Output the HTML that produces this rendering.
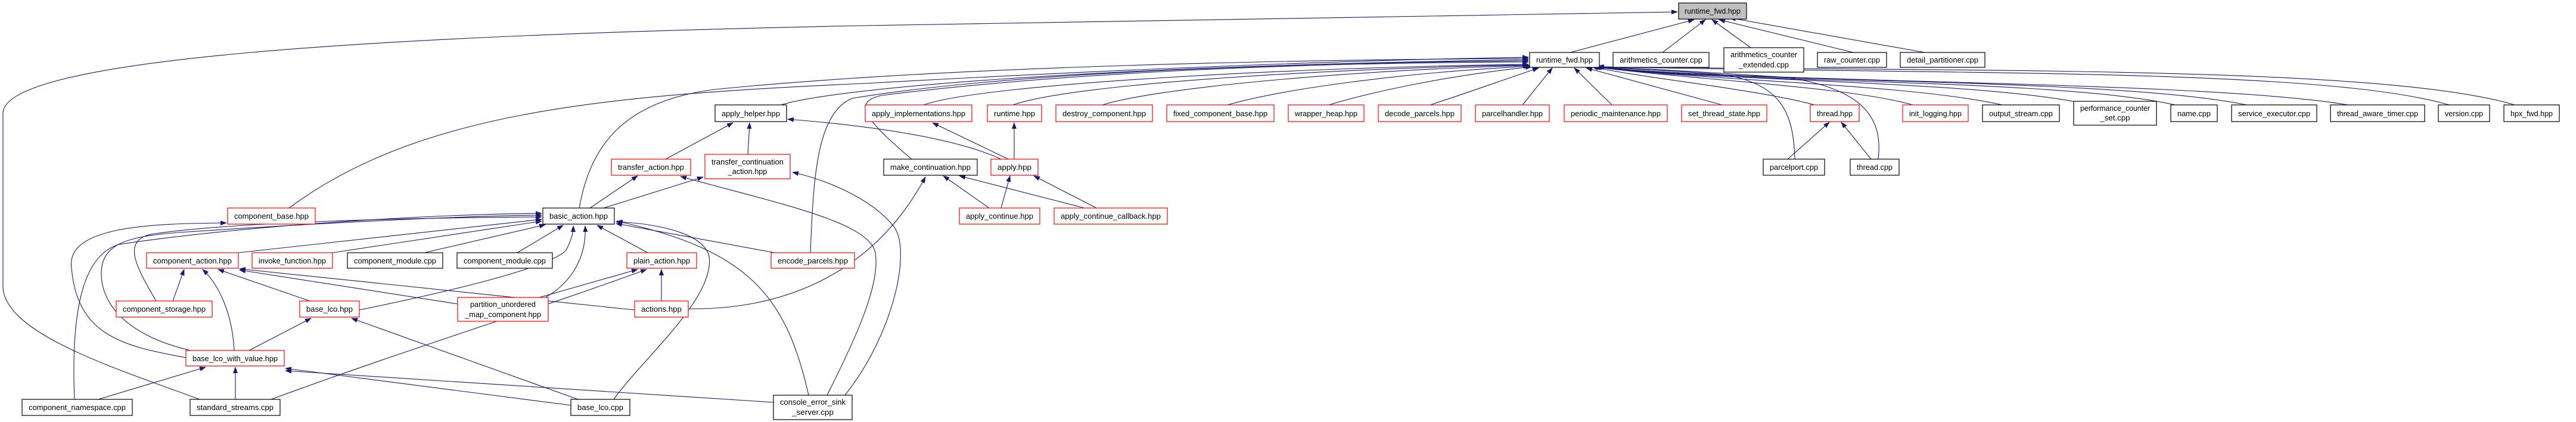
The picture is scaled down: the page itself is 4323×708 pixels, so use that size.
<!DOCTYPE html>
<html><head><meta charset="utf-8"><style>
html,body{margin:0;padding:0;background:#fff;}
svg{display:block;}
text{font-family:"Liberation Sans",sans-serif;font-size:12.5px;fill:#000;}
.e{fill:none;stroke:#191970;stroke-width:1.1;marker-end:url(#a);}
.rb{fill:#fff;stroke:#ff0000;stroke-width:1.2;}
.bb{fill:#fff;stroke:#000;stroke-width:1.2;}
.gb{fill:#bfbfbf;stroke:#000;stroke-width:1.2;}
.sh{fill:none;stroke:#555;stroke-width:2;}
</style></head><body>
<svg width="4323" height="708" viewBox="0 0 4323 708" xmlns="http://www.w3.org/2000/svg">
<defs><marker id="a" markerUnits="userSpaceOnUse" markerWidth="11" markerHeight="8" refX="10" refY="4" orient="auto"><path d="M0,0 L11,4 L0,8 z" fill="#191970"/></marker></defs>

<!-- edges to top runtime_fwd -->
<path class="e" d="M335,670 C200,620 5,560 5,480 L5,190 C5,100 600,60 1450,43 C2100,30 2600,22 2815,20"/>
<path class="e" d="M2635,88 L2843,33"/>
<path class="e" d="M2790,88 L2862,33"/>
<path class="e" d="M2938,80 L2873,33"/>
<path class="e" d="M3110,88 L2885,33"/>
<path class="e" d="M3230,88 L2903,30"/>

<!-- row2 to runtime_fwd -->
<path class="e" d="M1550,176 C1650,140 2200,112 2565,108"/>
<path class="e" d="M1700,176 C1800,140 2250,114 2565,109"/>
<path class="e" d="M1850,176 C1950,145 2300,116 2566,110"/>
<path class="e" d="M2060,176 C2150,150 2350,122 2567,111"/>
<path class="e" d="M2230,176 C2300,155 2420,128 2570,112"/>
<path class="e" d="M2400,176 C2450,160 2520,135 2582,114"/>
<path class="e" d="M2555,176 L2605,114"/>
<path class="e" d="M2705,176 L2642,114"/>
<path class="e" d="M2890,176 L2662,114"/>
<path class="e" d="M3045,176 C2950,150 2750,130 2672,112"/>
<path class="e" d="M3210,176 C3100,145 2850,135 2674,112"/>
<path class="e" d="M3360,176 C3200,140 2850,135 2675,112"/>
<path class="e" d="M3490,172 C3300,135 2850,135 2676,112"/>
<path class="e" d="M3650,176 C3450,130 2850,140 2677,112"/>
<path class="e" d="M3770,176 C3550,130 2900,140 2678,112"/>
<path class="e" d="M3940,176 C3700,135 2950,140 2679,112"/>
<path class="e" d="M4110,176 C3900,115 3300,125 2680,112"/>
<path class="e" d="M4220,176 C4000,110 3300,120 2681,112"/>
<path class="e" d="M3012,267 C3010,190 2990,140 2890,125 C2800,118 2720,115 2680,112"/>
<path class="e" d="M3152,267 C3160,200 3130,150 3000,130 C2850,120 2730,114 2682,112"/>
<path class="e" d="M3000,267 L3070,205"/>
<path class="e" d="M3140,267 L3090,205"/>

<!-- long left curves into runtime_fwd -->
<path class="e" d="M1305,178 C1380,150 1800,112 2565,100"/>
<path class="e" d="M972,349 C990,250 1040,170 1200,150 C1600,110 2200,100 2565,98"/>
<path class="e" d="M485,349 C700,190 1000,160 1450,140 C1900,115 2300,100 2565,96"/>
<path class="e" d="M1360,424 C1365,300 1370,190 1430,165 C1700,120 2200,105 2565,102"/>
<path class="e" d="M1530,267 C1450,200 1430,170 1480,160 C1800,120 2200,105 2565,104"/>

<!-- middle area -->
<path class="e" d="M1680,267 C1600,230 1450,210 1322,200"/>
<path class="e" d="M1117,267 L1230,206"/>
<path class="e" d="M1255,259 L1258,206"/>
<path class="e" d="M990,349 L1070,295"/>
<path class="e" d="M1013,349 L1180,297"/>
<path class="e" d="M1702,267 L1702,206"/>
<path class="e" d="M1692,267 L1565,206"/>
<path class="e" d="M1660,349 L1583,295"/>
<path class="e" d="M1680,349 L1695,295"/>
<path class="e" d="M1820,349 L1610,295"/>
<path class="e" d="M1840,349 L1735,295"/>
<path class="e" d="M1157,518 C1300,520 1460,470 1553,297"/>
<path class="e" d="M1418,663 C1500,560 1530,420 1500,380 C1460,330 1380,300 1330,289"/>
<path class="e" d="M1388,663 C1440,560 1480,470 1468,420 C1450,370 1300,340 1142,296"/>
<path class="e" d="M1357,663 C1320,500 1260,420 1035,371"/>

<!-- into basic_action -->
<path class="e" d="M400,424 L909,368"/>
<path class="e" d="M558,424 L909,371"/>
<path class="e" d="M712,424 L915,377"/>
<path class="e" d="M868,424 L945,378"/>
<path class="e" d="M1087,424 L1002,378"/>
<path class="e" d="M1300,424 L1034,375"/>
<path class="e" d="M262,505 C230,450 200,400 260,392 C400,372 700,365 909,364"/>
<path class="e" d="M320,588 C200,560 170,500 170,460 C170,410 210,397 300,390 C600,370 800,362 909,361"/>
<path class="e" d="M312,600 C200,580 130,560 120,450 C110,380 250,375 380,374"/>
<path class="e" d="M125,670 C120,550 130,430 200,410 C400,380 700,360 909,358"/>
<path class="e" d="M915,499 C950,480 985,440 982,379"/>
<path class="e" d="M603,520 C750,490 920,450 950,420 C960,400 962,390 962,379"/>
<path class="e" d="M1030,670 C1080,600 1200,500 1190,430 C1180,390 1100,375 1034,372"/>
<path class="e" d="M290,505 L309,452"/>
<path class="e" d="M393,588 C390,530 370,480 340,452"/>
<path class="e" d="M520,505 L366,452"/>
<path class="e" d="M768,510 L402,453"/>
<path class="e" d="M1065,520 L402,451"/>
<path class="e" d="M905,499 L1070,452"/>
<path class="e" d="M1110,505 L1110,452"/>
<path class="e" d="M455,670 C700,580 900,520 1085,452"/>
<path class="e" d="M418,588 L522,534"/>
<path class="e" d="M970,670 L590,534"/>
<path class="e" d="M165,670 L345,616"/>
<path class="e" d="M395,670 L395,616"/>
<path class="e" d="M958,680 L479,618"/>
<path class="e" d="M1298,675 L479,622"/>

<!-- nodes -->
<g>
<rect class="gb" x="2817" y="5" width="114" height="27"/><text x="2874" y="23" text-anchor="middle" textLength="94" lengthAdjust="spacingAndGlyphs">runtime_fwd.hpp</text>
<rect class="bb" x="2567" y="88" width="117" height="25"/><text x="2625.5" y="105" text-anchor="middle" textLength="95" lengthAdjust="spacingAndGlyphs">runtime_fwd.hpp</text>
<rect class="bb" x="2707" y="88" width="161" height="25"/><text x="2787.5" y="105" text-anchor="middle" textLength="139" lengthAdjust="spacingAndGlyphs">arithmetics_counter.cpp</text>
<rect class="bb" x="2893" y="80" width="134" height="41"/><text x="2960" y="96" text-anchor="middle" textLength="112" lengthAdjust="spacingAndGlyphs">arithmetics_counter</text><text x="2960" y="113" text-anchor="middle" textLength="84" lengthAdjust="spacingAndGlyphs">_extended.cpp</text>
<rect class="bb" x="3050" y="88" width="116" height="25"/><text x="3108" y="105" text-anchor="middle" textLength="94" lengthAdjust="spacingAndGlyphs">raw_counter.cpp</text>
<rect class="bb" x="3189" y="88" width="142" height="25"/><text x="3260" y="105" text-anchor="middle" textLength="120" lengthAdjust="spacingAndGlyphs">detail_partitioner.cpp</text>

<rect class="bb" x="1200" y="176" width="120" height="28"/><text x="1260" y="195" text-anchor="middle" textLength="98" lengthAdjust="spacingAndGlyphs">apply_helper.hpp</text>
<rect class="rb" x="1452" y="176" width="179" height="28"/><text x="1541.5" y="195" text-anchor="middle" textLength="157" lengthAdjust="spacingAndGlyphs">apply_implementations.hpp</text>
<rect class="rb" x="1657" y="176" width="91" height="28"/><text x="1702.5" y="195" text-anchor="middle" textLength="69" lengthAdjust="spacingAndGlyphs">runtime.hpp</text>
<rect class="rb" x="1772" y="176" width="162" height="28"/><text x="1853" y="195" text-anchor="middle" textLength="140" lengthAdjust="spacingAndGlyphs">destroy_component.hpp</text>
<rect class="rb" x="1958" y="176" width="180" height="28"/><text x="2048" y="195" text-anchor="middle" textLength="158" lengthAdjust="spacingAndGlyphs">fixed_component_base.hpp</text>
<rect class="rb" x="2162" y="176" width="127" height="28"/><text x="2225.5" y="195" text-anchor="middle" textLength="105" lengthAdjust="spacingAndGlyphs">wrapper_heap.hpp</text>
<rect class="rb" x="2313" y="176" width="139" height="28"/><text x="2382.5" y="195" text-anchor="middle" textLength="117" lengthAdjust="spacingAndGlyphs">decode_parcels.hpp</text>
<rect class="rb" x="2476" y="176" width="124" height="28"/><text x="2538" y="195" text-anchor="middle" textLength="102" lengthAdjust="spacingAndGlyphs">parcelhandler.hpp</text>
<rect class="rb" x="2625" y="176" width="173" height="28"/><text x="2711.5" y="195" text-anchor="middle" textLength="151" lengthAdjust="spacingAndGlyphs">periodic_maintenance.hpp</text>
<rect class="rb" x="2822" y="176" width="143" height="28"/><text x="2893.5" y="195" text-anchor="middle" textLength="121" lengthAdjust="spacingAndGlyphs">set_thread_state.hpp</text>
<rect class="rb" x="3038" y="176" width="82" height="28"/><text x="3079" y="195" text-anchor="middle" textLength="60" lengthAdjust="spacingAndGlyphs">thread.hpp</text>
<rect class="rb" x="3193" y="176" width="110" height="28"/><text x="3248" y="195" text-anchor="middle" textLength="88" lengthAdjust="spacingAndGlyphs">init_logging.hpp</text>
<rect class="bb" x="3327" y="176" width="129" height="28"/><text x="3391.5" y="195" text-anchor="middle" textLength="107" lengthAdjust="spacingAndGlyphs">output_stream.cpp</text>
<rect class="bb" x="3480" y="170" width="139" height="40"/><text x="3549.5" y="186" text-anchor="middle" textLength="117" lengthAdjust="spacingAndGlyphs">performance_counter</text><text x="3549.5" y="202" text-anchor="middle" textLength="50" lengthAdjust="spacingAndGlyphs">_set.cpp</text>
<rect class="bb" x="3643" y="176" width="78" height="28"/><text x="3682" y="195" text-anchor="middle" textLength="56" lengthAdjust="spacingAndGlyphs">name.cpp</text>
<rect class="bb" x="3745" y="176" width="143" height="28"/><text x="3816.5" y="195" text-anchor="middle" textLength="121" lengthAdjust="spacingAndGlyphs">service_executor.cpp</text>
<rect class="bb" x="3911" y="176" width="158" height="28"/><text x="3990" y="195" text-anchor="middle" textLength="136" lengthAdjust="spacingAndGlyphs">thread_aware_timer.cpp</text>
<rect class="bb" x="4092" y="176" width="86" height="28"/><text x="4135" y="195" text-anchor="middle" textLength="64" lengthAdjust="spacingAndGlyphs">version.cpp</text>
<rect class="bb" x="4202" y="176" width="93" height="28"/><text x="4248.5" y="195" text-anchor="middle" textLength="71" lengthAdjust="spacingAndGlyphs">hpx_fwd.hpp</text>

<rect class="rb" x="1026" y="267" width="133" height="27"/><text x="1092.5" y="285" text-anchor="middle" textLength="111" lengthAdjust="spacingAndGlyphs">transfer_action.hpp</text>
<rect class="rb" x="1183" y="259" width="143" height="41"/><text x="1254.5" y="276" text-anchor="middle" textLength="121" lengthAdjust="spacingAndGlyphs">transfer_continuation</text><text x="1254.5" y="292" text-anchor="middle" textLength="66" lengthAdjust="spacingAndGlyphs">_action.hpp</text>
<rect class="bb" x="1483" y="267" width="157" height="27"/><text x="1561.5" y="285" text-anchor="middle" textLength="135" lengthAdjust="spacingAndGlyphs">make_continuation.hpp</text>
<rect class="rb" x="1663" y="267" width="79" height="27"/><text x="1702.5" y="285" text-anchor="middle" textLength="57" lengthAdjust="spacingAndGlyphs">apply.hpp</text>
<rect class="bb" x="2959" y="267" width="103" height="27"/><text x="3010.5" y="285" text-anchor="middle" textLength="81" lengthAdjust="spacingAndGlyphs">parcelport.cpp</text>
<rect class="bb" x="3105" y="267" width="82" height="27"/><text x="3146" y="285" text-anchor="middle" textLength="60" lengthAdjust="spacingAndGlyphs">thread.cpp</text>

<rect class="rb" x="382" y="349" width="147" height="27"/><text x="455.5" y="367" text-anchor="middle" textLength="125" lengthAdjust="spacingAndGlyphs">component_base.hpp</text>
<rect class="bb" x="911" y="349" width="120" height="27"/><text x="971" y="367" text-anchor="middle" textLength="98" lengthAdjust="spacingAndGlyphs">basic_action.hpp</text>
<rect class="rb" x="1610" y="349" width="135" height="27"/><text x="1677.5" y="367" text-anchor="middle" textLength="113" lengthAdjust="spacingAndGlyphs">apply_continue.hpp</text>
<rect class="rb" x="1769" y="349" width="190" height="27"/><text x="1864" y="367" text-anchor="middle" textLength="168" lengthAdjust="spacingAndGlyphs">apply_continue_callback.hpp</text>

<rect class="rb" x="246" y="424" width="154" height="26"/><text x="323" y="442" text-anchor="middle" textLength="132" lengthAdjust="spacingAndGlyphs">component_action.hpp</text>
<rect class="rb" x="423" y="424" width="135" height="26"/><text x="490.5" y="442" text-anchor="middle" textLength="113" lengthAdjust="spacingAndGlyphs">invoke_function.hpp</text>
<rect class="bb" x="583" y="424" width="160" height="26"/><text x="663" y="442" text-anchor="middle" textLength="138" lengthAdjust="spacingAndGlyphs">component_module.cpp</text>
<rect class="bb" x="767" y="424" width="160" height="26"/><text x="847" y="442" text-anchor="middle" textLength="138" lengthAdjust="spacingAndGlyphs">component_module.cpp</text>
<rect class="rb" x="1052" y="424" width="117" height="26"/><text x="1110.5" y="442" text-anchor="middle" textLength="95" lengthAdjust="spacingAndGlyphs">plain_action.hpp</text>
<rect class="rb" x="1294" y="424" width="140" height="26"/><text x="1364" y="442" text-anchor="middle" textLength="118" lengthAdjust="spacingAndGlyphs">encode_parcels.hpp</text>

<rect class="rb" x="195" y="505" width="161" height="27"/><text x="275.5" y="523" text-anchor="middle" textLength="139" lengthAdjust="spacingAndGlyphs">component_storage.hpp</text>
<rect class="rb" x="503" y="505" width="100" height="27"/><text x="553" y="523" text-anchor="middle" textLength="78" lengthAdjust="spacingAndGlyphs">base_lco.hpp</text>
<rect class="rb" x="768" y="499" width="152" height="40"/><text x="844" y="515" text-anchor="middle" textLength="110" lengthAdjust="spacingAndGlyphs">partition_unordered</text><text x="844" y="532" text-anchor="middle" textLength="128" lengthAdjust="spacingAndGlyphs">_map_component.hpp</text>
<rect class="rb" x="1065" y="505" width="90" height="27"/><text x="1110" y="523" text-anchor="middle" textLength="68" lengthAdjust="spacingAndGlyphs">actions.hpp</text>

<rect class="rb" x="312" y="588" width="165" height="26"/><text x="394.5" y="606" text-anchor="middle" textLength="143" lengthAdjust="spacingAndGlyphs">base_lco_with_value.hpp</text>

<rect class="bb" x="37" y="670" width="185" height="27"/><text x="129.5" y="688" text-anchor="middle" textLength="163" lengthAdjust="spacingAndGlyphs">component_namespace.cpp</text>
<rect class="bb" x="319" y="670" width="151" height="27"/><text x="394.5" y="688" text-anchor="middle" textLength="129" lengthAdjust="spacingAndGlyphs">standard_streams.cpp</text>
<rect class="bb" x="958" y="670" width="99" height="27"/><text x="1007.5" y="688" text-anchor="middle" textLength="77" lengthAdjust="spacingAndGlyphs">base_lco.cpp</text>
<rect class="bb" x="1298" y="663" width="132" height="41"/><text x="1364" y="679" text-anchor="middle" textLength="110" lengthAdjust="spacingAndGlyphs">console_error_sink</text><text x="1364" y="696" text-anchor="middle" textLength="70" lengthAdjust="spacingAndGlyphs">_server.cpp</text>
</g>
</svg>
</body></html>
